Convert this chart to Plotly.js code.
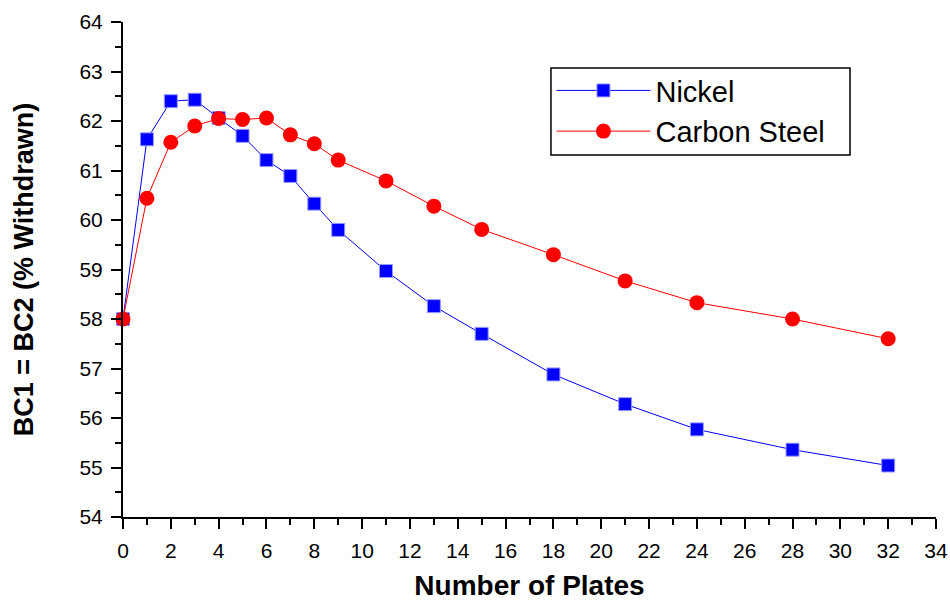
<!DOCTYPE html>
<html>
<head>
<meta charset="utf-8">
<script src="https://cdn.plot.ly/plotly-3.0.1.min.js"></script>
<style>html,body{margin:0;padding:0;background:#fff;}#chart{width:950px;height:601px;}</style>
</head>
<body>
<div id="chart"></div>
<script>
var plates = [0, 1, 2, 3, 4, 5, 6, 7, 8, 9, 11, 13, 15, 18, 21, 24, 28, 32];
var nickel = [58.0, 61.63, 62.40, 62.43, 62.06, 61.70, 61.21, 60.89, 60.33, 59.80, 58.97, 58.26, 57.70, 56.88, 56.28, 55.77, 55.36, 55.04];
var carbonSteel = [58.0, 60.44, 61.57, 61.90, 62.05, 62.03, 62.06, 61.72, 61.54, 61.21, 60.79, 60.28, 59.81, 59.30, 58.77, 58.33, 58.00, 57.60];
var seriesNames = ['Nickel', 'Carbon Steel'];
var xTitle = 'Number of Plates';
var yTitle = 'BC1 = BC2 (% Withdrawn)';

var font = 'Liberation Sans, Arial, Helvetica, sans-serif';
var traces = [
  {x: plates, y: nickel, name: seriesNames[0], type: 'scatter', mode: 'lines+markers', cliponaxis: false,
   line: {color: '#0000ff', width: 1},
   marker: {symbol: 'square', size: 13, color: '#0000ff', line: {color: '#9999ff', width: 1}}},
  {x: plates, y: carbonSteel, name: seriesNames[1], type: 'scatter', mode: 'lines+markers', cliponaxis: false,
   line: {color: '#ff0000', width: 1},
   marker: {symbol: 'circle', size: 15, color: '#ff0000', line: {width: 0}}}
];
var axisCommon = {
  showline: true, linecolor: '#000', linewidth: 2, mirror: false,
  showgrid: false, zeroline: false,
  ticks: 'outside', ticklen: 10, tickwidth: 2, tickcolor: '#000',
  tickfont: {family: font, size: 21, color: '#000'}
};
var layout = {
  width: 950, height: 601,
  margin: {l: 123, r: 14, t: 22, b: 84},
  paper_bgcolor: '#fff', plot_bgcolor: '#fff',
  showlegend: true,
  xaxis: Object.assign({}, axisCommon, {
    range: [0, 34], tick0: 0, dtick: 2, ticklabelstandoff: 4,
    minor: {dtick: 1, ticks: 'outside', ticklen: 6, tickwidth: 2, tickcolor: '#000', showgrid: false},
    title: {text: xTitle, font: {family: font, size: 28, color: '#000', weight: 'bold'}, standoff: 15}
  }),
  yaxis: Object.assign({}, axisCommon, {
    range: [54, 64], tick0: 54, dtick: 1, ticklabelstandoff: 4,
    minor: {dtick: 0.5, ticks: 'outside', ticklen: 6, tickwidth: 2, tickcolor: '#000', showgrid: false},
    title: {text: yTitle, font: {family: font, size: 27, color: '#000', weight: 'bold'}, standoff: 38}
  }),
  shapes: [{
    type: 'rect', xref: 'paper', yref: 'paper', layer: 'above',
    x0: 0.5264, x1: 0.8942, y0: 0.7313, y1: 0.9071,
    line: {color: '#000', width: 1.5}, fillcolor: '#fff'
  }],
  legend: {
    x: 0.527, y: 0.913, xanchor: 'left', yanchor: 'top',
    borderwidth: 0, bgcolor: 'rgba(0,0,0,0)',
    font: {family: font, size: 29, color: '#000'},
    tracegroupgap: 0, itemwidth: 94
  }
};
Plotly.newPlot('chart', traces, layout, {staticPlot: true});
</script>
</body>
</html>
